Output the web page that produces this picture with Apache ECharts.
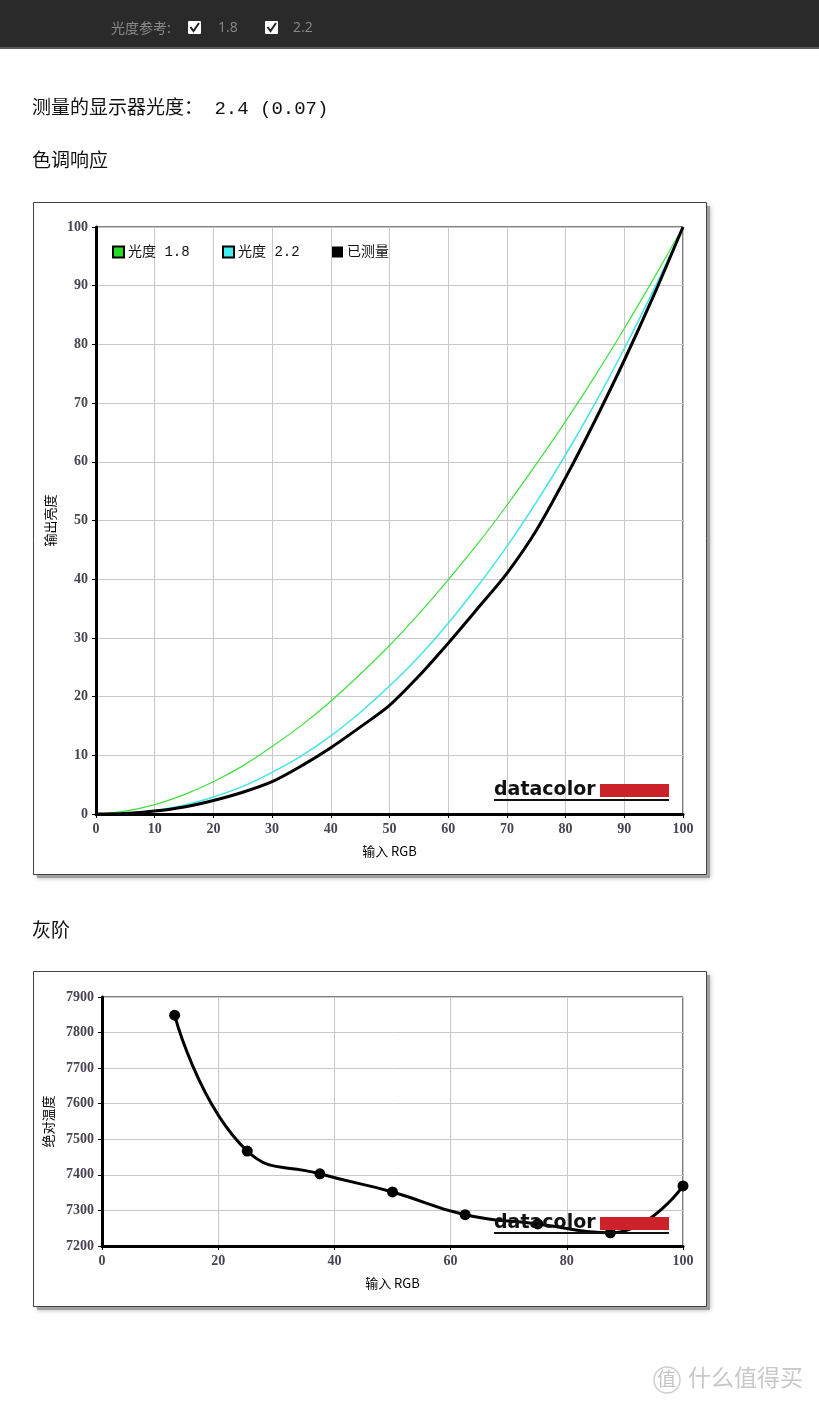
<!DOCTYPE html>
<html><head><meta charset="utf-8">
<script src="https://cdn.jsdelivr.net/npm/echarts@6/dist/echarts.min.js"></script>
<style>html,body{margin:0;padding:0;background:#fff;}#c{width:819px;height:1405px;}</style>
</head><body><div id="c"></div>
<script>
// ---- Tone response (色调响应) ----
const toneInput = [0,5,10,15,20,25,30,35,40,45,50,55,60,65,70,75,80,85,90,95,100];
const gamma18   = [0,0.5,1.6,3.3,5.5,8.2,11.5,15.1,19.2,23.8,28.7,34.1,39.9,46.0,52.6,59.6,66.9,74.6,82.7,91.2,100];
const gamma22   = [0,0.1,0.6,1.5,2.9,4.7,7.1,9.9,13.3,17.3,21.8,26.8,32.5,38.8,45.6,53.1,61.2,69.9,79.3,89.3,100];
const measured  = [0,0.1,0.5,1.2,2.3,3.7,5.5,8.2,11.3,14.8,18.5,23.5,29.1,35.0,41.0,48.3,57.3,67.0,77.3,88.3,100];
const toneNames = ['光度 1.8','光度 2.2','已测量'];
// ---- Gray scale (灰阶) ----
const grayInput = [12.5,25,37.5,50,62.5,75,87.5,100];
const grayTemp  = [7849,7467,7403,7352,7288,7262,7237,7369];

const tickFont = {fontFamily:"'Liberation Serif', serif", fontWeight:'bold', fontSize:14, color:'#48444f'};
const monoCJK = "'Liberation Mono','Noto Sans CJK SC',monospace";
const cjk = "'Noto Sans CJK SC',sans-serif";

function pair(xs, ys){ return xs.map((x,i)=>[x, ys[i]]); }

function valAxis(grid, min, max, interval, name, gap){
  return {
    type:'value', gridIndex:grid, min:min, max:max, interval:interval,
    name:name, nameLocation:'middle', nameGap:gap,
    nameTextStyle:{fontFamily:cjk, fontSize:13, color:'#000'},
    axisLine:{show:true, lineStyle:{color:'#000', width:3}},
    axisTick:{show:true, length:4, lineStyle:{color:'#000', width:1}},
    axisLabel:Object.assign({margin:8, formatter:(v)=>String(v)}, tickFont),
    splitLine:{show:true, lineStyle:{color:'#c8c8c8', width:1}}
  };
}

function logo(y){
  // y = top of red block
  return [
    {type:'text', z:100, style:{x:494, y:y+16, text:'datacolor', verticalAlign:'bottom', font:"bold 19px 'DejaVu Sans', sans-serif", fill:'#111'}},
    {type:'rect', z:100, shape:{x:600, y:y, width:69, height:13}, style:{fill:'#cc2229'}},
    {type:'rect', z:100, shape:{x:494, y:y+15, width:175, height:2}, style:{fill:'#111'}}
  ];
}

function box(x, y, w, h){
  return [
    {type:'rect', z:-12, shape:{x:x+4, y:y+4, width:w, height:h}, style:{fill:'#a0a0a0', shadowBlur:5, shadowColor:'rgba(0,0,0,0.3)'}},
    {type:'rect', z:-10, shape:{x:x+0.5, y:y+0.5, width:w, height:h}, style:{fill:'#fff', stroke:'#444', lineWidth:1}}
  ];
}

const chart = echarts.init(document.getElementById('c'), null, {renderer:'canvas'});
const option = {
  animation:false,
  backgroundColor:'#fff',
  graphic:{elements:[
    // top bar
    {type:'rect', z:-20, shape:{x:0,y:0,width:819,height:47}, style:{fill:'#2a2a2a'}},
    {type:'rect', z:-19, shape:{x:0,y:47,width:819,height:2}, style:{fill:'#5a5a5a'}},
    {type:'text', left:111, top:21, style:{text:'光度参考:', font:"14px 'Noto Sans CJK SC'", fill:'#8a8a8a'}},
    {type:'rect', shape:{x:188,y:21,width:13,height:13,r:1}, style:{fill:'#fff'}},
    {type:'polyline', shape:{points:[[190.5,27],[193.5,31],[199,23]]}, style:{stroke:'#222', lineWidth:2, fill:null}},
    {type:'text', left:218, top:21, style:{text:'1.8', font:"14px 'Open Sans'", fill:'#8a8a8a'}},
    {type:'rect', shape:{x:265,y:21,width:13,height:13,r:1}, style:{fill:'#fff'}},
    {type:'polyline', shape:{points:[[267.5,27],[270.5,31],[276,23]]}, style:{stroke:'#222', lineWidth:2, fill:null}},
    {type:'text', left:293, top:21, style:{text:'2.2', font:"14px 'Open Sans'", fill:'#8a8a8a'}},
    // headings
    {type:'text', left:32, top:99, style:{text:'测量的显示器光度： 2.4 (0.07)', font:"19px "+monoCJK, fill:'#111'}},
    {type:'text', left:32, top:150, style:{text:'色调响应', font:"19px "+cjk, fill:'#111'}},
    {type:'text', left:32, top:920, style:{text:'灰阶', font:"19px "+cjk, fill:'#111'}},
    // boxes
    ...box(33, 202, 673, 672),
    ...box(33, 971, 673, 335),
    ...logo(784),
    ...logo(1217),
    // watermark
    {type:'circle', shape:{cx:667, cy:1380, r:13}, style:{fill:null, stroke:'#cfcfcf', lineWidth:1.5}},
    {type:'text', left:657, top:1369, style:{text:'值', font:"19px "+cjk, fill:'#c4c4c4'}},
    {type:'text', left:688, top:1366, style:{text:'什么值得买', font:"23px "+cjk, fill:'#c8c8c8'}}
  ]},
  legend:toneNames.map((n,i)=>({
    left:[112,222,332][i], top:245, padding:0, itemGap:0, itemWidth:11, itemHeight:11,
    icon:'rect', data:[n],
    textStyle:{fontFamily:monoCJK, fontSize:14, color:'#111', padding:[0,0,0,-1]}
  })),
  grid:[
    {left:96, top:227, width:587, height:587, show:true, borderColor:'#000', borderWidth:1, backgroundColor:'transparent'},
    {left:102, top:997, width:581, height:249, show:true, borderColor:'#000', borderWidth:1, backgroundColor:'transparent'}
  ],
  xAxis:[
    valAxis(0, 0, 100, 10, '输入 RGB', 31),
    valAxis(1, 0, 100, 20, '输入 RGB', 31)
  ],
  yAxis:[
    valAxis(0, 0, 100, 10, '输出亮度', 37),
    valAxis(1, 7200, 7900, 100, '绝对温度', 47)
  ],
  series:[
    {name:toneNames[0], type:'line', xAxisIndex:0, yAxisIndex:0, data:pair(toneInput,gamma18), smooth:0.3, showSymbol:false, symbol:'none',
     lineStyle:{color:'#3ee03e', width:1.2}, itemStyle:{color:'#22dd22', borderColor:'#000', borderWidth:1}, z:3},
    {name:toneNames[1], type:'line', xAxisIndex:0, yAxisIndex:0, data:pair(toneInput,gamma22), smooth:0.3, showSymbol:false, symbol:'none',
     lineStyle:{color:'#44e4e4', width:1.5}, itemStyle:{color:'#44eeee', borderColor:'#000', borderWidth:1}, z:4},
    {name:toneNames[2], type:'line', xAxisIndex:0, yAxisIndex:0, data:pair(toneInput,measured), smooth:0.3, showSymbol:false, symbol:'none',
     lineStyle:{color:'#000', width:3}, itemStyle:{color:'#000'}, z:5},
    {name:'灰阶', type:'line', xAxisIndex:1, yAxisIndex:1, data:pair(grayInput,grayTemp), smooth:0.5,
     symbol:'circle', symbolSize:11, lineStyle:{color:'#000', width:3}, itemStyle:{color:'#000'}, z:5}
  ]
};
chart.setOption(option);
</script></body></html>
